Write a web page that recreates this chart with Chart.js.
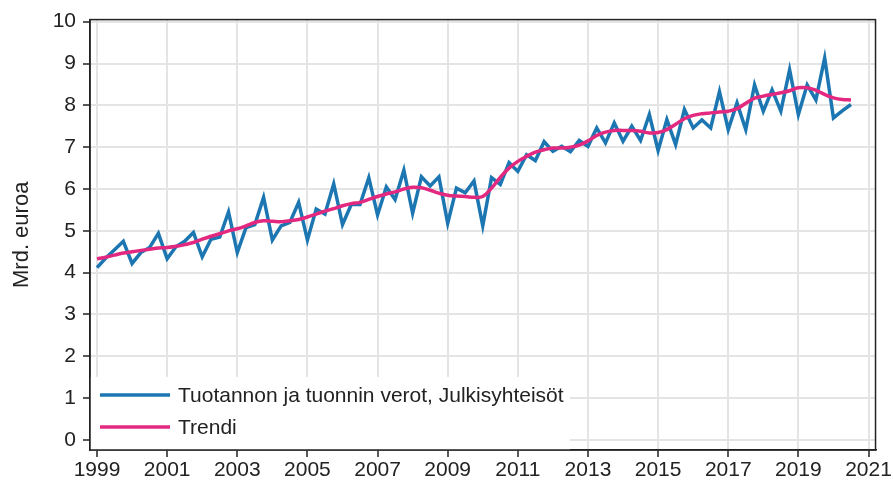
<!DOCTYPE html>
<html>
<head>
<meta charset="utf-8">
<script src="https://cdn.jsdelivr.net/npm/chart.js@4.4.1/dist/chart.umd.min.js"></script>
<style>
  html, body { margin: 0; padding: 0; background: #fff; }
</style>
</head>
<body>
<canvas id="myChart" width="893" height="491"></canvas>
<script>
// quarterly data, 1999Q1 - 2020Q3
const firstYear = 1999;
const verot = [
  4.12, 4.35, 4.55, 4.75, // 1999
  4.22, 4.48, 4.6, 4.94,  // 2000
  4.33, 4.62, 4.75, 4.96, // 2001
  4.38, 4.8, 4.85, 5.45,  // 2002
  4.48, 5.08, 5.15, 5.8,  // 2003
  4.78, 5.12, 5.2, 5.68,  // 2004
  4.78, 5.52, 5.4, 6.12,  // 2005
  5.15, 5.63, 5.63, 6.27, // 2006
  5.38, 6.05, 5.75, 6.45, // 2007
  5.42, 6.29, 6.07, 6.29, // 2008
  5.18, 6.02, 5.91, 6.19, // 2009
  5.12, 6.27, 6.11, 6.63, // 2010
  6.42, 6.82, 6.68, 7.13, // 2011
  6.9, 7.02, 6.89, 7.16,  // 2012
  7.02, 7.46, 7.1, 7.58,  // 2013
  7.14, 7.5, 7.16, 7.78,  // 2014
  6.92, 7.66, 7.06, 7.9,  // 2015
  7.46, 7.65, 7.46, 8.33, // 2016
  7.42, 8.06, 7.42, 8.49, // 2017
  7.86, 8.37, 7.86, 8.85, // 2018
  7.78, 8.49, 8.13, 9.13, // 2019
  7.7, 7.87, 8.02         // 2020
];
const trendi = [
  4.33, 4.37, 4.42, 4.47, // 1999
  4.5, 4.53, 4.56, 4.59,  // 2000
  4.6, 4.63, 4.67, 4.72,  // 2001
  4.8, 4.87, 4.93, 5.0,   // 2002
  5.05, 5.12, 5.2, 5.24,  // 2003
  5.23, 5.22, 5.24, 5.27, // 2004
  5.33, 5.4, 5.47, 5.53,  // 2005
  5.6, 5.65, 5.68, 5.75,  // 2006
  5.82, 5.88, 5.93, 6.0,  // 2007
  6.04, 6.03, 5.97, 5.9,  // 2008
  5.85, 5.83, 5.82, 5.8,  // 2009
  5.82, 6.02, 6.28, 6.5,  // 2010
  6.66, 6.78, 6.88, 6.94, // 2011
  6.98, 6.98, 7.0, 7.05,  // 2012
  7.15, 7.28, 7.36, 7.4,  // 2013
  7.4, 7.4, 7.38, 7.34,   // 2014
  7.35, 7.42, 7.55, 7.68, // 2015
  7.76, 7.8, 7.82, 7.84,  // 2016
  7.86, 7.92, 8.05, 8.17, // 2017
  8.22, 8.26, 8.3, 8.35,  // 2018
  8.42, 8.42, 8.36, 8.26, // 2019
  8.18, 8.14, 8.13        // 2020
];
const seriesLabels = ["Tuotannon ja tuonnin verot, Julkisyhteisöt", "Trendi"];
const seriesColors = ["#1b76b2", "#e3287f"];
const xTicks = [1999, 2001, 2003, 2005, 2007, 2009, 2011, 2013, 2015, 2017, 2019, 2021];
const yTicks = [0, 1, 2, 3, 4, 5, 6, 7, 8, 9, 10];
const yTitle = "Mrd. euroa";

const FONT = "'Liberation Sans', Arial, sans-serif";
const textColor = "#222";

// x position of each quarter
const toPoints = (arr) => arr.map((v, i) => ({ x: firstYear + i / 4, y: v }));

const legendInside = {
  id: "legendInside",
  afterDatasetsDraw(chart) {
    const ctx = chart.ctx;
    const a = chart.chartArea;
    ctx.save();
    ctx.fillStyle = "#fff";
    ctx.fillRect(a.left, 377, 570 - a.left, a.bottom - 377);
    ctx.font = "21px " + FONT;
    ctx.textBaseline = "middle";
    ctx.fillStyle = textColor;
    const rows = [395, 427];
    seriesLabels.forEach((label, i) => {
      ctx.strokeStyle = seriesColors[i];
      ctx.lineWidth = 3.5;
      ctx.beginPath();
      ctx.moveTo(100, rows[i]);
      ctx.lineTo(170, rows[i]);
      ctx.stroke();
      ctx.fillText(label, 178, rows[i] + 1);
    });
    // frame
    ctx.strokeStyle = "#222";
    ctx.lineWidth = 1.5;
    ctx.strokeRect(a.left, a.top, a.right - a.left, a.bottom - a.top);
    ctx.restore();
  }
};

const ctx = document.getElementById("myChart");

new Chart(ctx, {
  type: "line",
  data: {
    datasets: [
      {
        label: seriesLabels[0],
        data: toPoints(verot),
        borderColor: seriesColors[0],
        borderWidth: 3.5,
        pointRadius: 0,
        tension: 0,
        order: 1,
      },
      {
        label: seriesLabels[1],
        data: toPoints(trendi),
        borderColor: seriesColors[1],
        borderWidth: 3.5,
        pointRadius: 0,
        tension: 0.4,
        order: 0,
      },
    ],
  },
  options: {
    responsive: false,
    animation: false,
    devicePixelRatio: 1,
    layout: { padding: { left: 0, top: 18, right: 15, bottom: 0 }, autoPadding: false },
    plugins: {
      legend: { display: false },
      tooltip: { enabled: false },
    },
    scales: {
      x: {
        type: "linear",
        min: 1998.8,
        max: 2021.2,
        afterBuildTicks: (s) => { s.ticks = xTicks.map((v) => ({ value: v })); },
        afterFit: (s) => { s.height = 41; },
        ticks: {
          autoSkip: false,
          maxRotation: 0,
          padding: 1,
          color: textColor,
          font: { family: FONT, size: 21 },
          callback: (v) => String(v),
        },
        grid: { color: "#e4e4e4", lineWidth: 2, tickColor: "#222", tickLength: 7, tickWidth: 1.5 },
        border: { display: true, color: "#222", width: 1.5 },
      },
      y: {
        min: -0.24,
        max: 10.05,
        afterBuildTicks: (s) => { s.ticks = yTicks.map((v) => ({ value: v })); },
        afterFit: (s) => { s.width = 90; },
        ticks: {
          padding: 7,
          color: textColor,
          font: { family: FONT, size: 21 },
        },
        title: {
          display: true,
          text: yTitle,
          color: textColor,
          font: { family: FONT, size: 22 },
          padding: { top: 9, bottom: 0 },
        },
        grid: { color: "#e4e4e4", lineWidth: 2, tickColor: "#222", tickLength: 7, tickWidth: 1.5 },
        border: { display: true, color: "#222", width: 1.5 },
      },
    },
  },
  plugins: [legendInside],
});
</script>
</body>
</html>
